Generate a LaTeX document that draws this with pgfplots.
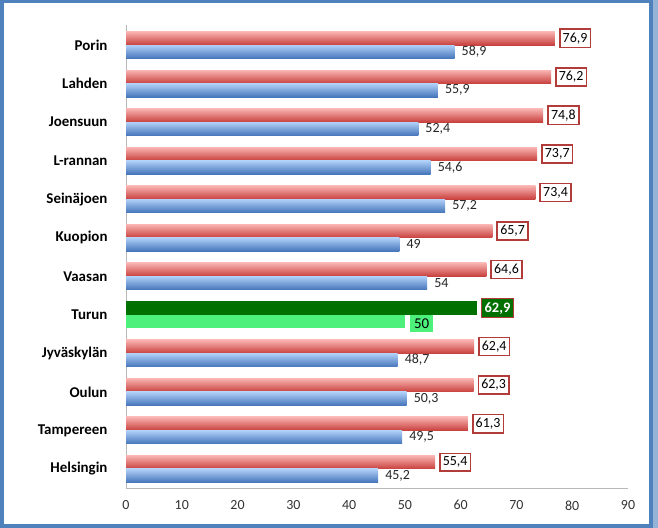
\documentclass[border=0pt]{standalone}
\usepackage{pgfplots}
\pgfplotsset{compat=1.18}
\usepackage{fontspec}
\setmainfont{Carlito}
\definecolor{redtop}{HTML}{F9B4B2}
\definecolor{redbot}{HTML}{C8403D}
\definecolor{bluetop}{HTML}{B0D0F8}
\definecolor{bluebot}{HTML}{4575BA}
\definecolor{boxred}{HTML}{B23C3A}
\definecolor{dkgreen}{HTML}{007000}
\definecolor{ltgreen}{HTML}{4DF07A}
\definecolor{framecol}{HTML}{4F81BD}
\definecolor{framelt}{HTML}{95B3D7}
\pgfplotsset{
  redbar/.style={bar shift=0.175, draw=none, top color=redtop, bottom color=redbot,
    nodes near coords style={fill=white, draw=boxred, line width=1.6bp, text=black, inner xsep=3bp, inner ysep=3.5bp, xshift=4bp}},
  bluebar/.style={bar shift=-0.175, draw=none, top color=bluetop, bottom color=bluebot,
    nodes near coords style={text=black!85, inner sep=2bp, xshift=5bp}},
}
\newcommand\R[2]{\addplot[redbar] coordinates {(#1,#2)};}
\newcommand\B[2]{\addplot[bluebar] coordinates {(#1,#2)};}
\begin{document}
\begin{tikzpicture}[x=1bp,y=1bp]
\useasboundingbox (0,0) rectangle (658,528);
\fill[white] (0,0) rectangle (658,528);
\fill[framelt] (651,0) rectangle (658,528);
\draw[line width=3.5bp, framecol] (1.75,1.75) rectangle (651,526.25);
\begin{axis}[
  at={(126bp,39bp)}, anchor=south west,
  scale only axis, width=502bp, height=464bp,
  xmin=0, xmax=90, ymin=-0.52, ymax=11.52,
  axis x line*=bottom, axis y line*=left,
  axis line style={draw=black!28, line width=1bp},
  xtick={0,10,...,90},
  ytick={0,...,11},
  yticklabels={Helsingin,Tampereen,Oulun,Jyväskylän,Turun,Vaasan,Kuopion,Seinäjoen,L-rannan,Joensuun,Lahden,Porin},
  major tick length=0pt,
  /pgf/number format/assume math mode=true,
  xticklabel style={font=\fontsize{14}{16}\selectfont, text=black!80, yshift=-8bp},
  yticklabel style={font=\fontsize{15}{17}\selectfont\bfseries, xshift=-15bp},
  xbar, bar width=0.35,
  point meta=x,
  nodes near coords,
  /pgf/number format/.cd, use comma, fixed, precision=1, /pgfplots/.cd,
  nodes near coords style={font=\fontsize{14}{16}\selectfont, anchor=west},
]
% red series (upper bars)
\R{55.4}{0} \R{61.3}{1} \R{62.3}{2} \R{62.4}{3} \R{64.6}{5} \R{65.7}{6}
\R{73.4}{7} \R{73.7}{8} \R{74.8}{9} \R{76.2}{10} \R{76.9}{11}
% blue series (lower bars)
\B{45.2}{0} \B{49.5}{1} \B{50.3}{2} \B{48.7}{3} \B{54}{5} \B{49}{6}
\B{57.2}{7} \B{54.6}{8} \B{52.4}{9} \B{55.9}{10} \B{58.9}{11}
% Turun
\addplot[bar shift=0.175, draw=none, fill=dkgreen,
  nodes near coords style={fill=dkgreen, draw=boxred, line width=1.6bp, text=white, font=\fontsize{14.5}{16}\selectfont\bfseries, inner xsep=3bp, inner ysep=3.5bp, xshift=4bp}]
  coordinates {(62.9,4)};
\addplot[bar shift=-0.175, draw=none, fill=ltgreen,
  nodes near coords style={fill=ltgreen, text=black, font=\fontsize{15}{17}\selectfont, inner xsep=4bp, inner ysep=4bp, xshift=5bp, yshift=-2bp}]
  coordinates {(50,4)};
\end{axis}
\end{tikzpicture}
\end{document}
